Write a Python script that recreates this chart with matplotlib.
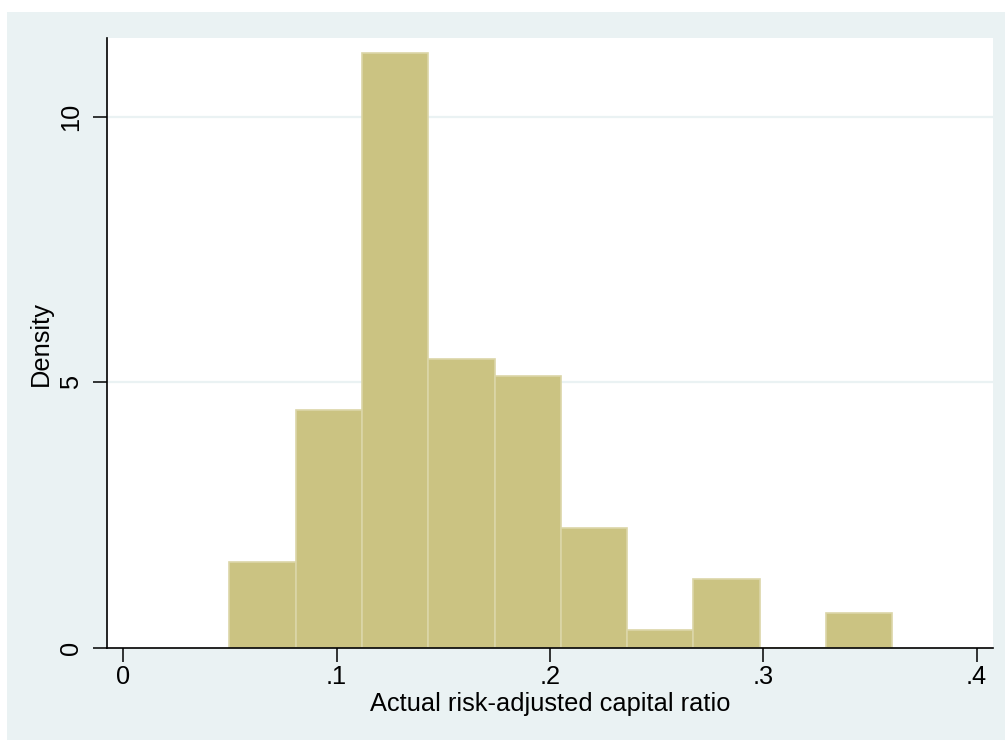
import numpy as np
import matplotlib.pyplot as plt
from matplotlib.patches import Rectangle

# histogram: 10 bins, density scale
bin_start = 0.0497
bin_width = 0.03108
density = [1.61, 4.48, 11.19, 5.43, 5.12, 2.25, 0.33, 1.29, 0.0, 0.65]

x_ticks = [0, 0.1, 0.2, 0.3, 0.4]
x_tick_labels = ["0", ".1", ".2", ".3", ".4"]
y_ticks = [0, 5, 10]
y_tick_labels = ["0", "5", "10"]

plt.rcParams['font.family'] = ['Liberation Sans', 'DejaVu Sans']

W, H = 1005, 740
fig = plt.figure(figsize=(W / 100, H / 100), dpi=100)
fig.patch.set_facecolor('white')
fig.patches.append(Rectangle((7 / W, 0), 1 - 7 / W, 1 - 12 / H,
                             transform=fig.transFigure, facecolor='#eaf2f3',
                             edgecolor='none', zorder=-10))

ax = fig.add_axes([107 / W, 1 - 648 / H, (993 - 107) / W, (648 - 38) / H])
ax.set_zorder(1)
ax.set_facecolor('white')

edges = bin_start + bin_width * np.arange(len(density))
ax.bar(edges, density, width=bin_width, align='edge',
       color='#cbc382', edgecolor='#dbd6a8', linewidth=1.2, zorder=2)

ax.set_xlim(-0.00765, 0.4077)
ax.set_ylim(0, 11.48)

for yv in [5, 10]:
    ax.axhline(yv, color='#eaf2f3', linewidth=1.6, zorder=1)

ax.set_xticks(x_ticks)
ax.set_xticklabels(x_tick_labels)
ax.set_yticks(y_ticks)
ax.set_yticklabels(y_tick_labels, rotation=90, va='center')

for side in ['top', 'right']:
    ax.spines[side].set_visible(False)
for side in ['left', 'bottom']:
    ax.spines[side].set_linewidth(1.2)
    ax.spines[side].set_color('black')

ax.tick_params(axis='both', direction='out', length=10, width=1.1,
               labelsize=18.3, colors='black')
ax.tick_params(axis='x', pad=2.5)
ax.tick_params(axis='y', pad=7)

ax.set_xlabel('Actual risk-adjusted capital ratio', fontsize=18.3, labelpad=2)
ax.set_ylabel('Density', fontsize=18.3, labelpad=5)

fig.savefig('out.png', dpi=100)
